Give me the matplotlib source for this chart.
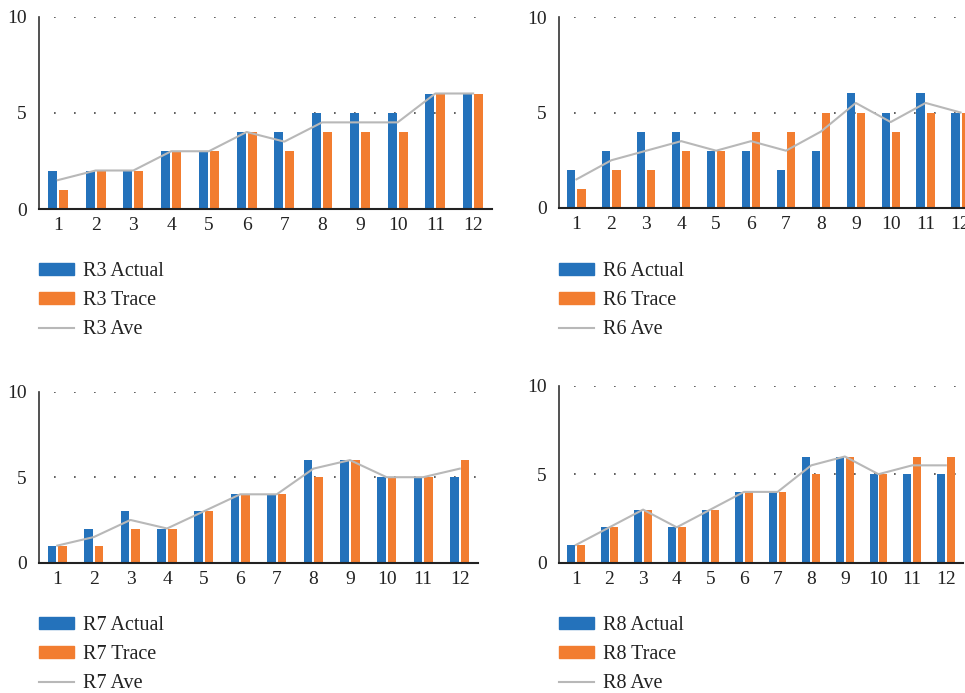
import matplotlib
matplotlib.use("Agg")
import matplotlib.pyplot as plt
import numpy as np
from matplotlib.patches import Patch
from matplotlib.lines import Line2D

plt.rcParams['font.family'] = ['Liberation Serif', 'DejaVu Serif']

categories = [str(i) for i in range(1, 13)]

r3_actual = [2, 2, 2, 3, 3, 4, 4, 5, 5, 5, 6, 6]
r3_trace  = [1, 2, 2, 3, 3, 4, 3, 4, 4, 4, 6, 6]
r3_ave    = [1.5, 2, 2, 3, 3, 4, 3.5, 4.5, 4.5, 4.5, 6, 6]

r6_actual = [2, 3, 4, 4, 3, 3, 2, 3, 6, 5, 6, 5]
r6_trace  = [1, 2, 2, 3, 3, 4, 4, 5, 5, 4, 5, 5]
r6_ave    = [1.5, 2.5, 3, 3.5, 3, 3.5, 3, 4, 5.5, 4.5, 5.5, 5]

r7_actual = [1, 2, 3, 2, 3, 4, 4, 6, 6, 5, 5, 5]
r7_trace  = [1, 1, 2, 2, 3, 4, 4, 5, 6, 5, 5, 6]
r7_ave    = [1, 1.5, 2.5, 2, 3, 4, 4, 5.5, 6, 5, 5, 5.5]

r8_actual = [1, 2, 3, 2, 3, 4, 4, 6, 6, 5, 5, 5]
r8_trace  = [1, 2, 3, 2, 3, 4, 4, 5, 6, 5, 6, 6]
r8_ave    = [1, 2, 3, 2, 3, 4, 4, 5.5, 6, 5, 5.5, 5.5]

panels = [
    ("R3", r3_actual, r3_trace, r3_ave),
    ("R6", r6_actual, r6_trace, r6_ave),
    ("R7", r7_actual, r7_trace, r7_ave),
    ("R8", r8_actual, r8_trace, r8_ave),
]

W, H = 965, 693
BLUE = '#2472BB'
ORANGE = '#F27D30'
GRAY = '#B8B8B8'

# axes rects in pixels: left, top, right, bottom
rects = [
    (39, 16.5, 492, 209),
    (559, 17, 978, 208),
    (39, 391.7, 478, 562.7),
    (559, 385.7, 962.6, 562.7),
]
legend_tops = [262, 262, 616, 616]
legend_lefts = [39, 559, 39, 559]

fig = plt.figure(figsize=(W / 100, H / 100), dpi=100)

x = np.arange(1, 13)
bw = 0.235
off = 0.145

for (name, act, tra, ave), (l, t, r, b), lt, ll in zip(panels, rects, legend_tops, legend_lefts):
    ax = fig.add_axes([l / W, 1 - b / H, (r - l) / W, (b - t) / H])
    ax.bar(x - off, act, width=bw, color=BLUE, zorder=2)
    ax.bar(x + off, tra, width=bw, color=ORANGE, zorder=2)
    ax.plot(x, ave, color=GRAY, lw=1.5, zorder=3)
    ax.set_xlim(0.5, 12.5)
    ax.set_ylim(0, 10)
    ax.set_yticks([0, 5, 10])
    ax.set_xticks(x)
    ax.set_xticklabels(categories)
    for y in (5, 10):
        ax.axhline(y, color='#444444', lw=1.2, linestyle=(3, (1, 11)), zorder=1)
    for s in ('top', 'right'):
        ax.spines[s].set_visible(False)
    ax.spines['left'].set_color('#333333')
    ax.spines['left'].set_linewidth(1.2)
    ax.spines['bottom'].set_color('#222222')
    ax.spines['bottom'].set_linewidth(1.5)
    ax.tick_params(axis='both', length=0, labelsize=14, colors='#222222')
    ax.tick_params(axis='y', pad=9)
    ax.tick_params(axis='x', pad=6)

    handles = [Patch(color=BLUE), Patch(color=ORANGE), Line2D([], [], color=GRAY, lw=1.5)]
    labels = [f"{name} Actual", f"{name} Trace", f"{name} Ave"]
    fig.legend(handles, labels, loc='upper left',
               bbox_to_anchor=(ll / W, 1 - lt / H), bbox_transform=fig.transFigure,
               frameon=False, borderpad=0, borderaxespad=0,
               fontsize=14.5, handlelength=1.75, handleheight=0.5,
               handletextpad=0.45, labelspacing=0.5, labelcolor='#222222')

fig.savefig('out.png', dpi=100)
